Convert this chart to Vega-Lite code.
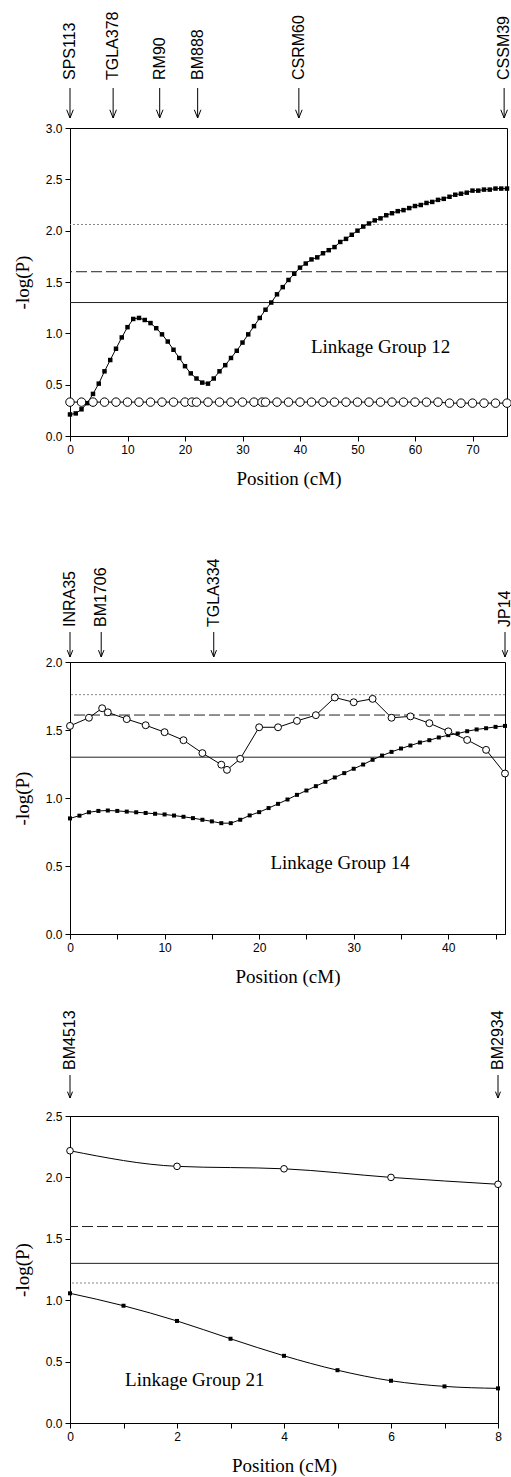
{
  "$schema": "https://vega.github.io/schema/vega-lite/v6.json",
  "background": "white",
  "padding": {"left": 12, "top": 11, "right": 0, "bottom": 0},
  "autosize": {"type": "pad"},
  "config": {
    "view": {"stroke": "black", "strokeWidth": 1},
    "axis": {
      "grid": false, "domainColor": "black", "tickColor": "black", "labelColor": "black", "titleColor": "black",
      "labelFont": "Liberation Sans", "labelFontSize": 12, "titleFont": "Liberation Serif", "titleFontSize": 19,
      "titleFontWeight": "normal", "tickSize": 5, "labelPadding": 3, "labelFlush": false, "labelOverlap": false
    },
    "axisX": {"titlePadding": 14},
    "axisY": {"titlePadding": 13}
  },
  "datasets": {
    "p1sq": [
      {"x":0,"y":0.21},{"x":1,"y":0.22},{"x":2,"y":0.26},{"x":3,"y":0.32},{"x":4,"y":0.41},{"x":5,"y":0.51},{"x":6,"y":0.63},{"x":7,"y":0.74},{"x":8,"y":0.85},{"x":9,"y":0.96},
      {"x":10,"y":1.06},{"x":11,"y":1.14},{"x":12,"y":1.15},{"x":13,"y":1.13},{"x":14,"y":1.10},{"x":15,"y":1.05},{"x":16,"y":0.99},{"x":17,"y":0.92},{"x":18,"y":0.84},{"x":19,"y":0.76},
      {"x":20,"y":0.68},{"x":21,"y":0.61},{"x":22,"y":0.56},{"x":23,"y":0.52},{"x":24,"y":0.51},{"x":25,"y":0.56},{"x":26,"y":0.63},{"x":27,"y":0.69},{"x":28,"y":0.76},{"x":29,"y":0.83},
      {"x":30,"y":0.91},{"x":31,"y":0.99},{"x":32,"y":1.07},{"x":33,"y":1.15},{"x":34,"y":1.23},{"x":35,"y":1.30},{"x":36,"y":1.38},{"x":37,"y":1.45},{"x":38,"y":1.52},{"x":39,"y":1.58},
      {"x":40,"y":1.64},{"x":41,"y":1.68},{"x":42,"y":1.72},{"x":43,"y":1.74},{"x":44,"y":1.78},{"x":45,"y":1.81},{"x":46,"y":1.84},{"x":47,"y":1.89},{"x":48,"y":1.92},{"x":49,"y":1.96},
      {"x":50,"y":2.00},{"x":51,"y":2.04},{"x":52,"y":2.07},{"x":53,"y":2.10},{"x":54,"y":2.12},{"x":55,"y":2.15},{"x":56,"y":2.17},{"x":57,"y":2.19},{"x":58,"y":2.20},{"x":59,"y":2.22},
      {"x":60,"y":2.24},{"x":61,"y":2.25},{"x":62,"y":2.27},{"x":63,"y":2.28},{"x":64,"y":2.30},{"x":65,"y":2.31},{"x":66,"y":2.33},{"x":67,"y":2.35},{"x":68,"y":2.36},{"x":69,"y":2.37},
      {"x":70,"y":2.39},{"x":71,"y":2.39},{"x":72,"y":2.40},{"x":73,"y":2.40},{"x":74,"y":2.41},{"x":75,"y":2.41},{"x":76,"y":2.41}
    ],
    "p1ci": [
      {"x":0,"y":0.33},{"x":2,"y":0.33},{"x":4,"y":0.33},{"x":6,"y":0.33},{"x":8,"y":0.33},{"x":10,"y":0.33},{"x":12,"y":0.33},{"x":14,"y":0.33},{"x":16,"y":0.33},{"x":18,"y":0.33},
      {"x":20,"y":0.33},{"x":21.2,"y":0.33},{"x":22,"y":0.33},{"x":24,"y":0.33},{"x":26,"y":0.33},{"x":28,"y":0.33},{"x":30,"y":0.33},{"x":32,"y":0.33},{"x":33.4,"y":0.33},{"x":34,"y":0.33},
      {"x":36,"y":0.33},{"x":38,"y":0.33},{"x":40,"y":0.33},{"x":42,"y":0.33},{"x":44,"y":0.33},{"x":46,"y":0.33},{"x":48,"y":0.33},{"x":50,"y":0.33},{"x":52,"y":0.33},{"x":54,"y":0.33},
      {"x":56,"y":0.33},{"x":58,"y":0.33},{"x":60,"y":0.33},{"x":62,"y":0.33},{"x":64,"y":0.33},{"x":66,"y":0.32},{"x":68,"y":0.32},{"x":70,"y":0.32},{"x":72,"y":0.32},{"x":74,"y":0.32},{"x":76,"y":0.32}
    ],
    "p1th": [
      {"y":1.3,"kind":"solid"},{"y":1.6,"kind":"dashed"},{"y":2.06,"kind":"dotted"}
    ],
    "p1mk": [
      {"x":0,"name":"SPS113"},{"x":7.5,"name":"TGLA378"},{"x":15.6,"name":"RM90"},{"x":22.2,"name":"BM888"},{"x":39.8,"name":"CSRM60"},{"x":75.5,"name":"CSSM39"}
    ],
    "p1lab": [{"x":41.9,"y":0.87,"text":"Linkage Group 12"}],
    "p2sq": [
      {"x":0,"y":0.85},{"x":1,"y":0.87},{"x":2,"y":0.895},{"x":3,"y":0.905},{"x":4,"y":0.908},{"x":5,"y":0.905},{"x":6,"y":0.90},{"x":7,"y":0.895},{"x":8,"y":0.89},{"x":9,"y":0.884},
      {"x":10,"y":0.879},{"x":11,"y":0.871},{"x":12,"y":0.862},{"x":13,"y":0.852},{"x":14,"y":0.84},{"x":15,"y":0.828},{"x":16,"y":0.815},{"x":17,"y":0.815},{"x":18,"y":0.84},{"x":19,"y":0.872},
      {"x":20,"y":0.896},{"x":21,"y":0.926},{"x":22,"y":0.957},{"x":23,"y":0.989},{"x":24,"y":1.023},{"x":25,"y":1.055},{"x":26,"y":1.087},{"x":27,"y":1.119},{"x":28,"y":1.151},{"x":29,"y":1.183},
      {"x":30,"y":1.215},{"x":31,"y":1.246},{"x":32,"y":1.281},{"x":33,"y":1.312},{"x":34,"y":1.339},{"x":35,"y":1.364},{"x":36,"y":1.386},{"x":37,"y":1.408},{"x":38,"y":1.425},{"x":39,"y":1.445},
      {"x":40,"y":1.462},{"x":41,"y":1.474},{"x":42,"y":1.491},{"x":43,"y":1.504},{"x":44,"y":1.513},{"x":45,"y":1.523},{"x":46,"y":1.53}
    ],
    "p2ci": [
      {"x":0,"y":1.53},{"x":2,"y":1.59},{"x":3.4,"y":1.66},{"x":4,"y":1.63},{"x":6,"y":1.58},{"x":8,"y":1.535},{"x":10,"y":1.484},{"x":12,"y":1.425},{"x":14,"y":1.33},{"x":16,"y":1.245},
      {"x":16.6,"y":1.207},{"x":18,"y":1.288},{"x":20,"y":1.52},{"x":22,"y":1.52},{"x":24,"y":1.567},{"x":26,"y":1.609},{"x":28,"y":1.739},{"x":30,"y":1.704},{"x":32,"y":1.729},{"x":34,"y":1.59},
      {"x":36,"y":1.60},{"x":38,"y":1.55},{"x":40,"y":1.49},{"x":42,"y":1.427},{"x":44,"y":1.354},{"x":46,"y":1.18}
    ],
    "p2th": [
      {"y":1.3,"kind":"solid"},{"y":1.61,"kind":"dashed"},{"y":1.76,"kind":"dotted"}
    ],
    "p2mk": [
      {"x":0,"name":"INRA35"},{"x":3.3,"name":"BM1706"},{"x":15.2,"name":"TGLA334"},{"x":46,"name":"JP14"}
    ],
    "p2lab": [{"x":21.2,"y":0.52,"text":"Linkage Group 14"}],
    "p3sq": [
      {"x":0,"y":1.056},{"x":1,"y":0.955},{"x":2,"y":0.831},{"x":3,"y":0.686},{"x":4,"y":0.547},{"x":5,"y":0.43},{"x":6,"y":0.344},{"x":7,"y":0.298},{"x":8,"y":0.282}
    ],
    "p3ci": [
      {"x":0,"y":2.217},{"x":2,"y":2.09},{"x":4,"y":2.07},{"x":6,"y":2.0},{"x":8,"y":1.944}
    ],
    "p3th": [
      {"y":1.3,"kind":"solid"},{"y":1.6,"kind":"dashed"},{"y":1.14,"kind":"dotted"}
    ],
    "p3mk": [
      {"x":0,"name":"BM4513"},{"x":8,"name":"BM2934"}
    ],
    "p3lab": [{"x":1.03,"y":0.35,"text":"Linkage Group 21"}]
  },
  "spacing": 69,
  "vconcat": [
    {
      "width": 437, "height": 308,
      "layer": [
        {"data": {"name": "p1th"}, "transform": [{"filter": "datum.kind == 'dotted'"}], "mark": {"type": "rule", "color": "#888", "strokeWidth": 1, "strokeDash": [2, 2]}, "encoding": {"y": {"field": "y", "type": "quantitative"}}},
        {"data": {"name": "p1th"}, "transform": [{"filter": "datum.kind == 'dashed'"}], "mark": {"type": "rule", "color": "#222", "strokeWidth": 1, "strokeDash": [11, 4]}, "encoding": {"y": {"field": "y", "type": "quantitative"}}},
        {"data": {"name": "p1th"}, "transform": [{"filter": "datum.kind == 'solid'"}], "mark": {"type": "rule", "color": "#222", "strokeWidth": 1}, "encoding": {"y": {"field": "y", "type": "quantitative"}}},
        {"data": {"name": "p1sq"}, "mark": {"type": "line", "color": "black", "strokeWidth": 1},
         "encoding": {
           "x": {"field": "x", "type": "quantitative", "scale": {"domain": [0, 76], "nice": false, "zero": false},
                 "axis": {"title": "Position (cM)", "values": [0,5,10,15,20,25,30,35,40,45,50,55,60,65,70,75], "labelExpr": "datum.value % 10 == 0 ? datum.label : ''"}},
           "y": {"field": "y", "type": "quantitative", "scale": {"domain": [0, 3], "nice": false},
                 "axis": {"title": "-log(P)", "format": ".1f", "values": [0,0.25,0.5,0.75,1,1.25,1.5,1.75,2,2.25,2.5,2.75,3], "labelExpr": "datum.value % 0.5 == 0 ? datum.label : ''"}}
         }},
        {"data": {"name": "p1sq"}, "mark": {"type": "square", "color": "black", "size": 20, "opacity": 1}, "encoding": {"x": {"field": "x", "type": "quantitative"}, "y": {"field": "y", "type": "quantitative"}}},
        {"data": {"name": "p1ci"}, "mark": {"type": "line", "color": "black", "strokeWidth": 1}, "encoding": {"x": {"field": "x", "type": "quantitative"}, "y": {"field": "y", "type": "quantitative"}}},
        {"data": {"name": "p1ci"}, "mark": {"type": "circle", "fill": "white", "stroke": "black", "strokeWidth": 1, "size": 72, "opacity": 1}, "encoding": {"x": {"field": "x", "type": "quantitative"}, "y": {"field": "y", "type": "quantitative"}}},
        {"data": {"name": "p1lab"}, "mark": {"type": "text", "font": "Liberation Serif", "fontSize": 19, "align": "left", "baseline": "middle", "color": "black"}, "encoding": {"x": {"field": "x", "type": "quantitative"}, "y": {"field": "y", "type": "quantitative"}, "text": {"field": "text"}}},
        {"data": {"name": "p1mk"}, "mark": {"type": "point", "shape": "M0,-1L0,1M-0.22,0.45L0,1L0.22,0.45", "filled": false, "stroke": "black", "strokeWidth": 1, "size": 900, "opacity": 1, "yOffset": -25}, "encoding": {"x": {"field": "x", "type": "quantitative"}, "y": {"datum": 3}}},
        {"data": {"name": "p1mk"}, "mark": {"type": "text", "angle": 270, "align": "left", "baseline": "middle", "dx": 48, "font": "Liberation Sans", "fontSize": 16, "color": "black"}, "encoding": {"x": {"field": "x", "type": "quantitative"}, "y": {"datum": 3}, "text": {"field": "name"}}}
      ]
    },
    {
      "spacing": 22,
      "vconcat": [
        {
          "width": 435, "height": 272,
          "layer": [
            {"data": {"name": "p2th"}, "transform": [{"filter": "datum.kind == 'dotted'"}], "mark": {"type": "rule", "color": "#888", "strokeWidth": 1, "strokeDash": [2, 2]}, "encoding": {"y": {"field": "y", "type": "quantitative"}}},
            {"data": {"name": "p2th"}, "transform": [{"filter": "datum.kind == 'dashed'"}], "mark": {"type": "rule", "color": "#222", "strokeWidth": 1, "strokeDash": [11, 4]}, "encoding": {"y": {"field": "y", "type": "quantitative"}}},
            {"data": {"name": "p2th"}, "transform": [{"filter": "datum.kind == 'solid'"}], "mark": {"type": "rule", "color": "#222", "strokeWidth": 1}, "encoding": {"y": {"field": "y", "type": "quantitative"}}},
            {"data": {"name": "p2sq"}, "mark": {"type": "line", "color": "black", "strokeWidth": 1},
             "encoding": {
               "x": {"field": "x", "type": "quantitative", "scale": {"domain": [0, 46], "nice": false, "zero": false},
                     "axis": {"title": "Position (cM)", "values": [0,5,10,15,20,25,30,35,40,45], "labelExpr": "datum.value % 10 == 0 ? datum.label : ''"}},
               "y": {"field": "y", "type": "quantitative", "scale": {"domain": [0, 2], "nice": false},
                     "axis": {"title": "-log(P)", "format": ".1f", "values": [0,0.25,0.5,0.75,1,1.25,1.5,1.75,2], "labelExpr": "datum.value % 0.5 == 0 ? datum.label : ''"}}
             }},
            {"data": {"name": "p2sq"}, "mark": {"type": "square", "color": "black", "size": 16, "opacity": 1}, "encoding": {"x": {"field": "x", "type": "quantitative"}, "y": {"field": "y", "type": "quantitative"}}},
            {"data": {"name": "p2ci"}, "mark": {"type": "line", "color": "black", "strokeWidth": 1}, "encoding": {"x": {"field": "x", "type": "quantitative"}, "y": {"field": "y", "type": "quantitative"}}},
            {"data": {"name": "p2ci"}, "mark": {"type": "circle", "fill": "white", "stroke": "black", "strokeWidth": 1, "size": 48, "opacity": 1}, "encoding": {"x": {"field": "x", "type": "quantitative"}, "y": {"field": "y", "type": "quantitative"}}},
            {"data": {"name": "p2lab"}, "mark": {"type": "text", "font": "Liberation Serif", "fontSize": 19, "align": "left", "baseline": "middle", "color": "black"}, "encoding": {"x": {"field": "x", "type": "quantitative"}, "y": {"field": "y", "type": "quantitative"}, "text": {"field": "text"}}},
            {"data": {"name": "p2mk"}, "mark": {"type": "point", "shape": "M0,-1L0,1M-0.22,0.45L0,1L0.22,0.45", "filled": false, "stroke": "black", "strokeWidth": 1, "size": 625, "opacity": 1, "yOffset": -17.5}, "encoding": {"x": {"field": "x", "type": "quantitative"}, "y": {"datum": 2}}},
            {"data": {"name": "p2mk"}, "mark": {"type": "text", "angle": 270, "align": "left", "baseline": "middle", "dx": 35, "font": "Liberation Sans", "fontSize": 16, "color": "black"}, "encoding": {"x": {"field": "x", "type": "quantitative"}, "y": {"datum": 2}, "text": {"field": "name"}}}
          ]
        },
        {
          "width": 428, "height": 307,
          "layer": [
            {"data": {"name": "p3th"}, "transform": [{"filter": "datum.kind == 'dotted'"}], "mark": {"type": "rule", "color": "#888", "strokeWidth": 1, "strokeDash": [2, 2]}, "encoding": {"y": {"field": "y", "type": "quantitative"}}},
            {"data": {"name": "p3th"}, "transform": [{"filter": "datum.kind == 'dashed'"}], "mark": {"type": "rule", "color": "#222", "strokeWidth": 1, "strokeDash": [11, 4]}, "encoding": {"y": {"field": "y", "type": "quantitative"}}},
            {"data": {"name": "p3th"}, "transform": [{"filter": "datum.kind == 'solid'"}], "mark": {"type": "rule", "color": "#222", "strokeWidth": 1}, "encoding": {"y": {"field": "y", "type": "quantitative"}}},
            {"data": {"name": "p3sq"}, "mark": {"type": "line", "color": "black", "strokeWidth": 1, "interpolate": "monotone"},
             "encoding": {
               "x": {"field": "x", "type": "quantitative", "scale": {"domain": [0, 8], "nice": false, "zero": false},
                     "axis": {"title": "Position (cM)", "values": [0,1,2,3,4,5,6,7,8], "labelExpr": "datum.value % 2 == 0 ? datum.label : ''"}},
               "y": {"field": "y", "type": "quantitative", "scale": {"domain": [0, 2.5], "nice": false},
                     "axis": {"title": "-log(P)", "format": ".1f", "values": [0,0.25,0.5,0.75,1,1.25,1.5,1.75,2,2.25,2.5], "labelExpr": "datum.value % 0.5 == 0 ? datum.label : ''"}}
             }},
            {"data": {"name": "p3sq"}, "mark": {"type": "square", "color": "black", "size": 16, "opacity": 1}, "encoding": {"x": {"field": "x", "type": "quantitative"}, "y": {"field": "y", "type": "quantitative"}}},
            {"data": {"name": "p3ci"}, "mark": {"type": "line", "color": "black", "strokeWidth": 1, "interpolate": "monotone"}, "encoding": {"x": {"field": "x", "type": "quantitative"}, "y": {"field": "y", "type": "quantitative"}}},
            {"data": {"name": "p3ci"}, "mark": {"type": "circle", "fill": "white", "stroke": "black", "strokeWidth": 1, "size": 44, "opacity": 1}, "encoding": {"x": {"field": "x", "type": "quantitative"}, "y": {"field": "y", "type": "quantitative"}}},
            {"data": {"name": "p3lab"}, "mark": {"type": "text", "font": "Liberation Serif", "fontSize": 19, "align": "left", "baseline": "middle", "color": "black"}, "encoding": {"x": {"field": "x", "type": "quantitative"}, "y": {"field": "y", "type": "quantitative"}, "text": {"field": "text"}}},
            {"data": {"name": "p3mk"}, "mark": {"type": "point", "shape": "M0,-1L0,1M-0.22,0.45L0,1L0.22,0.45", "filled": false, "stroke": "black", "strokeWidth": 1, "size": 529, "opacity": 1, "yOffset": -29.5}, "encoding": {"x": {"field": "x", "type": "quantitative"}, "y": {"datum": 2.5}}},
            {"data": {"name": "p3mk"}, "mark": {"type": "text", "angle": 270, "align": "left", "baseline": "middle", "dx": 46, "font": "Liberation Sans", "fontSize": 16, "color": "black"}, "encoding": {"x": {"field": "x", "type": "quantitative"}, "y": {"datum": 2.5}, "text": {"field": "name"}}}
          ]
        }
      ]
    }
  ]
}
